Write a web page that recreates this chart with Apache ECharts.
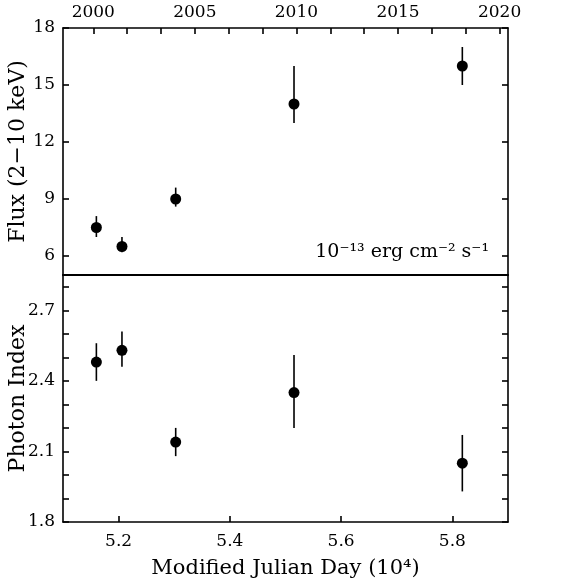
<!DOCTYPE html>
<html><head><meta charset="utf-8">
<script src="https://cdn.jsdelivr.net/npm/echarts@6/dist/echarts.min.js"></script>
<style>html,body{margin:0;padding:0;background:#fff}#c{width:579px;height:587px}</style>
</head><body><div id="c"></div>
<script>
// MJD in units of 10^4 days
var mjd = [5.160, 5.206, 5.3026, 5.5153, 5.8179];
var flux = [7.5, 6.5, 9.0, 14.0, 16.0];
var fluxLo = [7.0, 6.2, 8.6, 13.0, 15.0];
var fluxHi = [8.1, 7.0, 9.6, 16.0, 17.0];
var gamma = [2.48, 2.53, 2.14, 2.35, 2.05];
var gammaLo = [2.40, 2.46, 2.08, 2.20, 1.93];
var gammaHi = [2.56, 2.61, 2.20, 2.51, 2.17];

var mjdTicks = [5.2, 5.4, 5.6, 5.8];
var fluxTicks = [6, 9, 12, 15, 18];
var gammaLabelTicks = [1.8, 2.1, 2.4, 2.7];
var gammaTicks = [1.8, 1.9, 2.0, 2.1, 2.2, 2.3, 2.4, 2.5, 2.6, 2.7, 2.8];
var yearLabels = [2000, 2005, 2010, 2015, 2020];
var yearTicks = [2000, 2000 + 5/3, 2000 + 10/3, 2005, 2005 + 5/3, 2005 + 10/3, 2010, 2010 + 5/3, 2010 + 10/3, 2015, 2015 + 5/3, 2015 + 10/3, 2020];

var xMin = 5.1, xMax = 5.9;
function mjdToYear(v) { return 2000 + (v * 10000 - 51544) / 365.25; }

var FONT = 'DejaVu Serif';
var lineStyle = { color: '#000', width: 1.6 };

function pairs(xs, ys) { return xs.map(function (x, i) { return [x, ys[i]]; }); }
function triples(xs, lo, hi) { return xs.map(function (x, i) { return [x, lo[i], hi[i]]; }); }

function errRender(params, api) {
  var p1 = api.coord([api.value(0), api.value(1)]);
  var p2 = api.coord([api.value(0), api.value(2)]);
  return { type: 'line', shape: { x1: p1[0], y1: p1[1], x2: p2[0], y2: p2[1] },
           style: { stroke: '#000', lineWidth: 1.6 } };
}

var chart = echarts.init(document.getElementById('c'));
chart.setOption({
  animation: false,
  backgroundColor: '#fff',
  grid: [
    { left: 63, right: 71, top: 28, height: 247, containLabel: false, outerBoundsMode: 'none' },
    { left: 63, right: 71, top: 275, height: 247, containLabel: false, outerBoundsMode: 'none' }
  ],
  xAxis: [
    { gridIndex: 0, type: 'value', min: xMin, max: xMax, position: 'bottom',
      axisLine: { lineStyle: { color: '#000', width: 2 } }, axisTick: { show: false },
      axisLabel: { show: false }, splitLine: { show: false } },
    { gridIndex: 0, type: 'value', min: mjdToYear(xMin), max: mjdToYear(xMax), position: 'top',
      axisLine: { lineStyle: lineStyle },
      axisTick: { inside: true, length: 6, lineStyle: lineStyle, customValues: yearTicks },
      axisLabel: { customValues: yearLabels, margin: 7, color: '#000', fontFamily: FONT, fontSize: 17,
                   formatter: function (v) { return String(Math.round(v)); } },
      splitLine: { show: false } },
    { gridIndex: 1, type: 'value', min: xMin, max: xMax, position: 'bottom',
      name: 'Modified Julian Day (10⁴)', nameLocation: 'middle', nameGap: 36, nameMoveOverlap: false,
      nameTextStyle: { color: '#000', fontFamily: FONT, fontSize: 21 },
      axisLine: { lineStyle: lineStyle },
      axisTick: { inside: true, length: 6, lineStyle: lineStyle, customValues: mjdTicks },
      axisLabel: { customValues: mjdTicks, margin: 11, color: '#000', fontFamily: FONT, fontSize: 17,
                   formatter: function (v) { return v.toFixed(1); } },
      splitLine: { show: false } }
  ],
  yAxis: [
    { gridIndex: 0, type: 'value', min: 5, max: 18, position: 'left',
      name: 'Flux (2\u221210 keV)', nameLocation: 'middle', nameGap: 34, nameMoveOverlap: false,
      nameTextStyle: { color: '#000', fontFamily: FONT, fontSize: 22 },
      axisLine: { show: true, lineStyle: lineStyle },
      axisTick: { inside: true, length: 6, lineStyle: lineStyle, customValues: fluxTicks },
      axisLabel: { customValues: fluxTicks, margin: 8, color: '#000', fontFamily: FONT, fontSize: 17 },
      splitLine: { show: false } },
    { gridIndex: 0, type: 'value', min: 5, max: 18, position: 'right',
      axisLine: { show: true, lineStyle: lineStyle },
      axisTick: { inside: true, length: 6, lineStyle: lineStyle, customValues: fluxTicks },
      axisLabel: { show: false }, splitLine: { show: false } },
    { gridIndex: 1, type: 'value', min: 1.8, max: 2.85, position: 'left',
      name: 'Photon Index', nameLocation: 'middle', nameGap: 34, nameMoveOverlap: false,
      nameTextStyle: { color: '#000', fontFamily: FONT, fontSize: 22 },
      axisLine: { show: true, lineStyle: lineStyle },
      axisTick: { inside: true, length: 6, lineStyle: lineStyle, customValues: gammaTicks },
      axisLabel: { customValues: gammaLabelTicks, margin: 8, color: '#000', fontFamily: FONT, fontSize: 17,
                   formatter: function (v) { return v.toFixed(1); } },
      splitLine: { show: false } },
    { gridIndex: 1, type: 'value', min: 1.8, max: 2.85, position: 'right',
      axisLine: { show: true, lineStyle: lineStyle },
      axisTick: { inside: true, length: 6, lineStyle: lineStyle, customValues: gammaTicks },
      axisLabel: { show: false }, splitLine: { show: false } }
  ],
  graphic: [
    { type: 'text', right: 579 - 489, top: 243,
      style: { text: '10\u207b\u00b9\u00b3 erg cm\u207b\u00b2 s\u207b\u00b9', fill: '#000',
               font: '19px "DejaVu Serif"' } }
  ],
  series: [
    { type: 'custom', xAxisIndex: 0, yAxisIndex: 0, renderItem: errRender,
      data: triples(mjd, fluxLo, fluxHi), encode: { x: 0, y: [1, 2] }, z: 2 },
    { type: 'scatter', xAxisIndex: 0, yAxisIndex: 0, data: pairs(mjd, flux),
      symbol: 'circle', symbolSize: 11, itemStyle: { color: '#000', opacity: 1 }, z: 3 },
    { type: 'custom', xAxisIndex: 2, yAxisIndex: 2, renderItem: errRender,
      data: triples(mjd, gammaLo, gammaHi), encode: { x: 0, y: [1, 2] }, z: 2 },
    { type: 'scatter', xAxisIndex: 2, yAxisIndex: 2, data: pairs(mjd, gamma),
      symbol: 'circle', symbolSize: 11, itemStyle: { color: '#000', opacity: 1 }, z: 3 }
  ]
});
</script>
</body></html>
